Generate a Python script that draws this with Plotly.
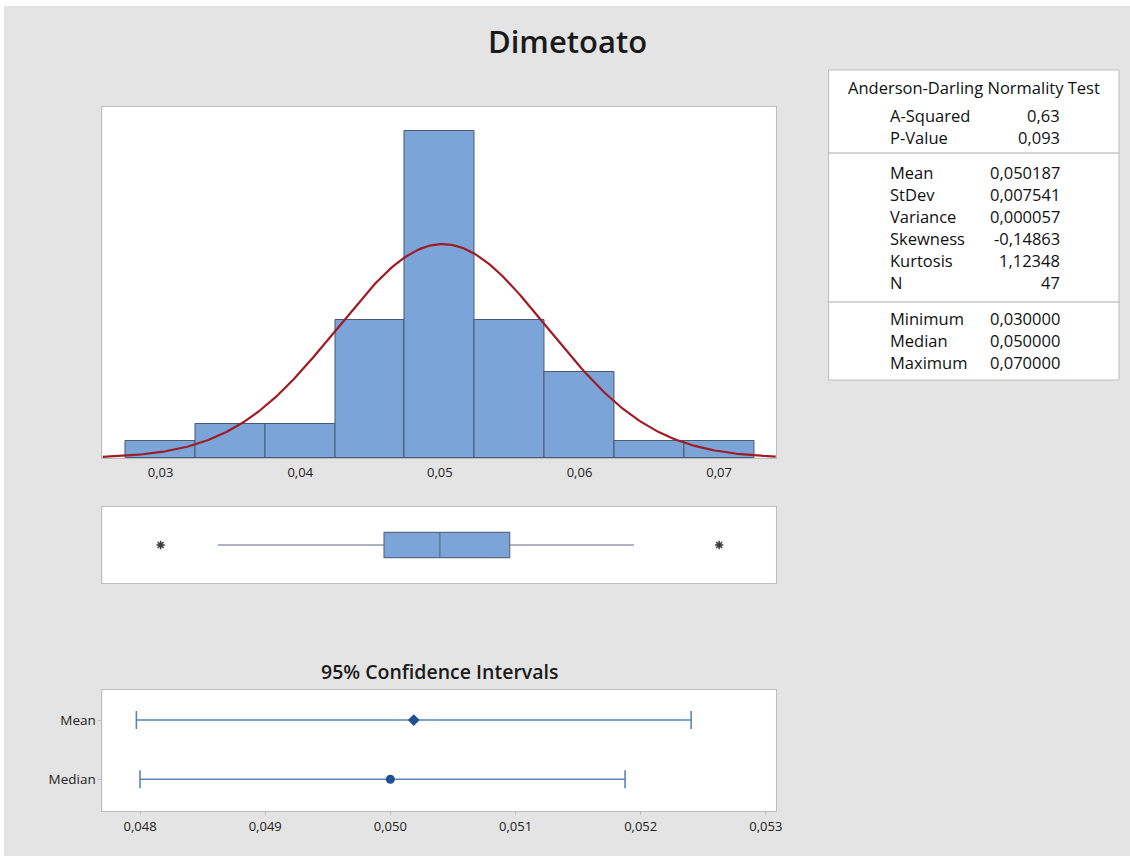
import numpy as np
import plotly.graph_objects as go

# ---------------- data ----------------
bin_centers = [0.030, 0.035, 0.040, 0.045, 0.050, 0.055, 0.060, 0.065, 0.070]
bin_counts = [1, 2, 2, 8, 19, 8, 5, 1, 1]
bin_width = 0.005

n_obs = 47
mean_val = 0.050187
stdev_val = 0.007541

box_q1 = [0.0460]
box_median = [0.0500]
box_q3 = [0.0550]
box_low_whisker = [0.0341]
box_high_whisker = [0.0639]
box_outliers = [0.030, 0.070]

ci_labels = ["Median", "Mean"]
ci_centers = [0.050000, 0.050187]
ci_lower = [0.048000, 0.047971]
ci_upper = [0.051875, 0.052403]

hist_ticks = [0.03, 0.04, 0.05, 0.06, 0.07]
ci_ticks = [0.048, 0.049, 0.050, 0.051, 0.052, 0.053]

ad_labels = ["A-Squared", "P-Value"]
ad_values = ["0,63", "0,093"]
desc_labels = ["Mean", "StDev", "Variance", "Skewness", "Kurtosis", "N"]
desc_values = ["0,050187", "0,007541", "0,000057", "-0,14863", "1,12348", "47"]
ext_labels = ["Minimum", "Median", "Maximum"]
ext_values = ["0,030000", "0,050000", "0,070000"]

# ---------------- style ----------------
OX, OY = 4, 6            # page offset of the figure (body margin)
W, H = 1126, 850
BG = "#e4e4e4"
BAR = "#7ba4d9"
BAR_LINE = "#4a5a70"
CURVE = "#a01c24"
BORDER = "#bdbdbd"
FONT = "Open Sans"
TXT = "#1a1a1a"

def px_x(x):
    return (x - OX) / W

def px_y(y):
    return 1 - (y - OY) / H

hist_xrange = [0.025836, 0.074063]

fig = go.Figure()

# histogram bars
fig.add_trace(go.Bar(
    x=bin_centers, y=bin_counts, width=[bin_width] * len(bin_centers),
    marker=dict(color=BAR, line=dict(color=BAR_LINE, width=1)),
    xaxis="x", yaxis="y", showlegend=False, hoverinfo="x+y"))

# fitted normal curve
xs = np.linspace(hist_xrange[0], hist_xrange[1], 300)
ys = n_obs * bin_width * np.exp(-0.5 * ((xs - mean_val) / stdev_val) ** 2) / (stdev_val * np.sqrt(2 * np.pi))
fig.add_trace(go.Scatter(x=xs, y=ys, mode="lines", line=dict(color=CURVE, width=2.2),
                         xaxis="x", yaxis="y", showlegend=False, hoverinfo="skip"))

# boxplot
fig.add_trace(go.Box(
    y=[0], q1=box_q1, median=box_median, q3=box_q3,
    lowerfence=box_low_whisker, upperfence=box_high_whisker,
    orientation="h", width=0.66, whiskerwidth=0, boxpoints=False,
    fillcolor=BAR, line=dict(color="#5d6b80", width=1.2),
    xaxis="x2", yaxis="y2", showlegend=False))
fig.add_trace(go.Scatter(
    x=box_outliers, y=[0] * len(box_outliers), mode="markers",
    marker=dict(symbol="asterisk-open", size=7, color="#3a3a3a",
                line=dict(color="#3a3a3a", width=1.5)),
    xaxis="x2", yaxis="y2", showlegend=False))

# confidence intervals
ci_symbols = ["circle", "diamond"]
for i in range(len(ci_labels)):
    fig.add_trace(go.Scatter(
        x=[ci_centers[i]], y=[i], mode="markers",
        marker=dict(symbol=ci_symbols[i], size=9, color="#1f4f8f"),
        error_x=dict(type="data", symmetric=False,
                     array=[ci_upper[i] - ci_centers[i]],
                     arrayminus=[ci_centers[i] - ci_lower[i]],
                     color="#5b84b5", thickness=1.6, width=9),
        xaxis="x3", yaxis="y3", showlegend=False))

axis_common = dict(showgrid=False, zeroline=False, showline=True, mirror=True,
                   linecolor=BORDER, linewidth=1)
tickfont = dict(family=FONT, size=13, color="#222222")

dom_x = [px_x(103), px_x(780)]
fig.update_layout(
    width=W, height=H, margin=dict(l=0, r=0, t=0, b=0),
    paper_bgcolor=BG, plot_bgcolor="white",
    separators=",.",
    bargap=0,
    xaxis=dict(domain=dom_x, range=hist_xrange, anchor="y",
               tickvals=hist_ticks, tickformat=".2f", ticks="", tickfont=tickfont,
               ticklabelstandoff=2, **axis_common),
    yaxis=dict(domain=[px_y(458), px_y(107)], range=[0, 20.4], anchor="x",
               showticklabels=False, ticks="", **axis_common),
    xaxis2=dict(domain=dom_x, range=hist_xrange, anchor="y2",
                showticklabels=False, ticks="", **axis_common),
    yaxis2=dict(domain=[px_y(583), px_y(507)], range=[-1, 1], anchor="x2",
                showticklabels=False, ticks="", **axis_common),
    xaxis3=dict(domain=dom_x, range=[0.04770, 0.05308], anchor="y3",
                tickvals=ci_ticks, tickformat=".3f", ticks="outside", ticklen=3,
                tickcolor=BORDER, tickfont=tickfont, **axis_common),
    yaxis3=dict(domain=[px_y(811), px_y(690)], range=[-0.537, 1.508], anchor="x3",
                tickvals=[0, 1], ticktext=ci_labels, ticks="outside", ticklen=3,
                tickcolor=BORDER, tickfont=dict(family=FONT, size=13.5, color="#222222"),
                **axis_common),
)

shapes = []
annotations = []

# title
annotations.append(dict(x=px_x(571), y=px_y(41), xref="paper", yref="paper",
                        text="Dimetoato", showarrow=False, xanchor="center", yanchor="middle",
                        font=dict(family=FONT, size=31, color=TXT, weight=600)))
annotations.append(dict(x=px_x(442), y=px_y(671), xref="paper", yref="paper",
                        text="95% Confidence Intervals", showarrow=False,
                        xanchor="center", yanchor="middle",
                        font=dict(family=FONT, size=19.5, color=TXT, weight=600)))

# stats table
tx0, tx1, ty0, ty1 = 833, 1125, 70, 380
shapes.append(dict(type="rect", xref="paper", yref="paper",
                   x0=px_x(tx0), x1=px_x(tx1), y0=px_y(ty1), y1=px_y(ty0),
                   fillcolor="white", line=dict(color=BORDER, width=1), layer="below"))
for sy in (153, 302):
    shapes.append(dict(type="line", xref="paper", yref="paper",
                       x0=px_x(tx0), x1=px_x(tx1), y0=px_y(sy), y1=px_y(sy),
                       line=dict(color="#a8a8a8", width=1)))

tfont = dict(family=FONT, size=16.5, color="#111111", weight=500)
annotations.append(dict(x=px_x(979), y=px_y(88), xref="paper", yref="paper",
                        text="Anderson-Darling Normality Test", showarrow=False,
                        xanchor="center", yanchor="middle",
                        font=dict(family=FONT, size=16.5, color="#111111", weight=500)))

def add_rows(labels, values, y_start, step=22):
    for k, (lab, val) in enumerate(zip(labels, values)):
        yy = y_start + k * step
        annotations.append(dict(x=px_x(893), y=px_y(yy), xref="paper", yref="paper",
                                text=lab, showarrow=False, xanchor="left", yanchor="middle",
                                font=tfont))
        annotations.append(dict(x=px_x(1068), y=px_y(yy), xref="paper", yref="paper",
                                text=val, showarrow=False, xanchor="right", yanchor="middle",
                                font=tfont))

add_rows(ad_labels, ad_values, 116)
add_rows(desc_labels, desc_values, 172)
add_rows(ext_labels, ext_values, 319, step=21.5)

fig.update_layout(shapes=shapes, annotations=annotations)

fig.write_html(
    "out.html",
    post_script=("document.body.style.margin='%dpx 0 0 %dpx';"
                 "document.body.style.overflow='hidden';"
                 "document.documentElement.style.overflow='hidden';") % (OY, OX))
